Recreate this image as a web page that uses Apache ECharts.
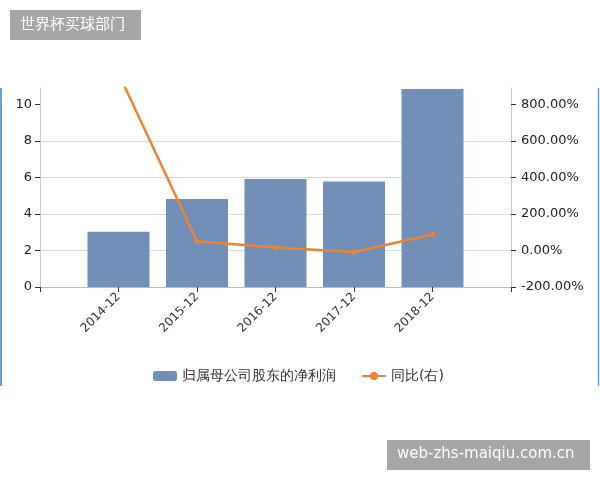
<!DOCTYPE html>
<html>
<head>
<meta charset="utf-8">
<script src="https://cdn.jsdelivr.net/npm/echarts@6/dist/echarts.min.js"></script>
<style>
  html, body { margin: 0; padding: 0; background: #fff; }
  #chart { width: 600px; height: 480px; }
</style>
</head>
<body>
<div id="chart"></div>
<script>
// data
const categories = ["2014-12", "2015-12", "2016-12", "2017-12", "2018-12"];
const profit = [3.02, 4.82, 5.92, 5.78, 10.85];
const yoy = [970, 51, 17, -8, 88];
const leftTicks = [0, 2, 4, 6, 8, 10];
const rightTicks = [-200, 0, 200, 400, 600, 800];

// empty slot at each end so the bars sit inside the axes like the original
const axisData = [""].concat(categories, [""]);
const barData = [null].concat(profit, [null]);
const lineData = [null].concat(yoy, [null]);

const font = "DejaVu Sans";
const chart = echarts.init(document.getElementById("chart"));
const option = {
  animation: false,
  textStyle: { fontFamily: font },
  grid: { left: 40, right: 89, top: 88, bottom: 193, containLabel: false },
  legend: {
    left: 148,
    top: 364,
    itemWidth: 24,
    itemHeight: 10,
    itemGap: 25,
    textStyle: { fontSize: 14, color: "#333", fontFamily: font },
    data: ["归属母公司股东的净利润", "同比(右)"],
  },
  xAxis: {
    type: "category",
    boundaryGap: false,
    data: axisData,
    axisLine: { lineStyle: { color: "#bdbdbd" } },
    axisTick: { alignWithLabel: true, length: 5, lineStyle: { color: "#333" } },
    axisLabel: { rotate: 45, interval: 0, fontSize: 12, color: "#333", margin: 8 },
    splitLine: { show: false },
  },
  yAxis: [
    {
      type: "value",
      min: 0,
      max: 10.9,
      interval: 2,
      axisLine: { show: true, lineStyle: { color: "#c8c8c8" } },
      axisTick: { show: true, length: 5, customValues: leftTicks, lineStyle: { color: "#333" } },
      axisLabel: { customValues: leftTicks, fontSize: 13, color: "#222", margin: 8 },
      splitLine: { show: true, showMaxLine: false, lineStyle: { color: "#d9d9d9" } },
    },
    {
      type: "value",
      min: -200,
      max: 890,
      interval: 200,
      axisLine: { show: true, lineStyle: { color: "#c8c8c8" } },
      axisTick: { show: true, length: 5, customValues: rightTicks, lineStyle: { color: "#333" } },
      axisLabel: {
        customValues: rightTicks,
        fontSize: 13,
        color: "#222",
        margin: 10,
        formatter: (v) => v.toFixed(2) + "%",
      },
      splitLine: { show: false },
    },
  ],
  series: [
    {
      name: "归属母公司股东的净利润",
      type: "bar",
      data: barData,
      barWidth: 62,
      itemStyle: { color: "#7290b7" },
    },
    {
      name: "同比(右)",
      type: "line",
      yAxisIndex: 1,
      data: lineData,
      symbol: "circle",
      symbolSize: 5,
      clip: true,
      lineStyle: { color: "#ec8435", width: 2.5 },
      itemStyle: { color: "#ec8435" },
    },
  ],
  graphic: [
    {
      type: "group",
      left: 10,
      top: 10,
      children: [
        { type: "rect", shape: { x: 0, y: 0, width: 131, height: 30 }, style: { fill: "#a6a6a6" } },
        { type: "text", x: 10, y: 6, style: { text: "世界杯买球部门", fill: "#fff", font: "15px 'Noto Sans CJK SC'" } },
      ],
    },
    {
      type: "group",
      left: 387,
      top: 440,
      children: [
        { type: "rect", shape: { x: 0, y: 0, width: 203, height: 30 }, style: { fill: "#a6a6a6" } },
        { type: "text", x: 10, y: 7, style: { text: "web-zhs-maiqiu.com.cn", fill: "#fff", font: "15px 'DejaVu Sans'" } },
      ],
    },
    { type: "line", shape: { x1: 1, y1: 88, x2: 1, y2: 386 }, style: { stroke: "#6a9fd4", lineWidth: 2 } },
    { type: "line", shape: { x1: 598.5, y1: 88, x2: 598.5, y2: 386 }, style: { stroke: "#6a9fd4", lineWidth: 1.5 } },
  ],
};
chart.setOption(option);
</script>
</body>
</html>
